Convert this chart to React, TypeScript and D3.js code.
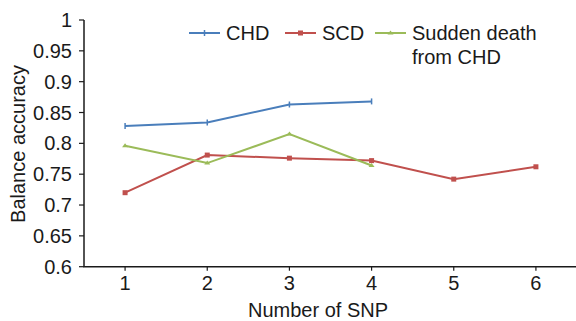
import React from "react";
import * as d3 from "d3";

const snpCounts = [1, 2, 3, 4, 5, 6];
const chdValues = [0.828, 0.834, 0.863, 0.868];
const scdValues = [0.72, 0.781, 0.776, 0.772, 0.742, 0.762];
const suddenValues = [0.796, 0.768, 0.815, 0.764];
const yTicks = [0.6, 0.65, 0.7, 0.75, 0.8, 0.85, 0.9, 0.95, 1];
const yTickLabels = ["0.6", "0.65", "0.7", "0.75", "0.8", "0.85", "0.9", "0.95", "1"];

const series = [
  { name: "CHD", values: chdValues, color: "#4a7ebb", marker: "plus" },
  { name: "SCD", values: scdValues, color: "#c0504d", marker: "square" },
  { name: "Sudden death", name2: "from CHD", values: suddenValues, color: "#9bbb59", marker: "tri" },
];

const W = 576;
const H = 321;
const FONT = "'Liberation Sans', Arial, sans-serif";
const FS = 20;

export default function App() {
  const x = d3.scaleLinear().domain([0.5, 6.5]).range([84, 577]);
  const y = d3.scaleLinear().domain([0.6, 1]).range([266.7, 20]);
  const line = d3
    .line<[number, number]>()
    .x((d) => x(d[0]))
    .y((d) => y(d[1]));

  const legendItems = [
    { s: series[0], x0: 189 },
    { s: series[1], x0: 285 },
    { s: series[2], x0: 375 },
  ];

  const marker = (m: string, cx: number, cy: number, color: string, key: string) => {
    if (m === "square")
      return <rect key={key} x={cx - 2.5} y={cy - 2.5} width={5} height={5} fill={color} />;
    if (m === "tri")
      return (
        <path key={key} d={`M${cx - 3},${cy + 1.5}L${cx},${cy - 2.5}L${cx + 3},${cy + 1.5}Z`} fill={color} />
      );
    return (
      <path key={key} d={`M${cx},${cy - 3}V${cy + 3}`} stroke={color} strokeWidth={1.5} />
    );
  };

  return (
    <svg width={W} height={H} style={{ position: "absolute", left: 0, top: 0, background: "#fff" }} fontFamily={FONT}>
      {/* y axis */}
      <line x1={84} x2={84} y1={y(1)} y2={y(0.6)} stroke="#1a1a1a" strokeWidth={1.5} />
      {yTicks.map((t, i) => (
        <g key={"yt" + i}>
          <line x1={79} x2={84} y1={y(t)} y2={y(t)} stroke="#1a1a1a" strokeWidth={1.2} />
          <text x={72} y={y(t)} dy="0.35em" textAnchor="end" fontSize={FS} fill="#1a1a1a">
            {yTickLabels[i]}
          </text>
        </g>
      ))}
      {/* x axis */}
      <line x1={83.3} x2={577} y1={y(0.6)} y2={y(0.6)} stroke="#1a1a1a" strokeWidth={1.5} />
      {snpCounts.map((c) => (
        <g key={"xt" + c}>
          <line x1={x(c)} x2={x(c)} y1={y(0.6)} y2={y(0.6) + 4} stroke="#1a1a1a" strokeWidth={1.2} />
          <text x={x(c)} y={y(0.6) + 23.5} textAnchor="middle" fontSize={FS} fill="#1a1a1a">
            {c}
          </text>
        </g>
      ))}
      <text x={318} y={317} textAnchor="middle" fontSize={FS} fill="#1a1a1a">
        Number of SNP
      </text>
      <text
        transform={`translate(25,${144}) rotate(-90)`}
        textAnchor="middle"
        fontSize={FS}
        fill="#1a1a1a"
      >
        Balance accuracy
      </text>
      {/* series */}
      {series.map((s) => {
        const pts: [number, number][] = s.values.map((v, i) => [snpCounts[i], v]);
        return (
          <g key={s.name}>
            <path d={line(pts) || ""} fill="none" stroke={s.color} strokeWidth={2} />
            {pts.map((p, i) => marker(s.marker, x(p[0]), y(p[1]), s.color, s.name + i))}
          </g>
        );
      })}
      {/* legend */}
      {legendItems.map(({ s, x0 }) => (
        <g key={"lg" + s.name}>
          <line x1={x0} x2={x0 + 31} y1={33} y2={33} stroke={s.color} strokeWidth={2} />
          {marker(s.marker, x0 + 15.5, 33, s.color, "lm" + s.name)}
          <text x={x0 + 37} y={33} dy="0.35em" fontSize={FS} fill="#1a1a1a">
            {s.name}
          </text>
          {s.name2 && (
            <text x={x0 + 37} y={57} dy="0.35em" fontSize={FS} fill="#1a1a1a">
              {s.name2}
            </text>
          )}
        </g>
      ))}
    </svg>
  );
}
